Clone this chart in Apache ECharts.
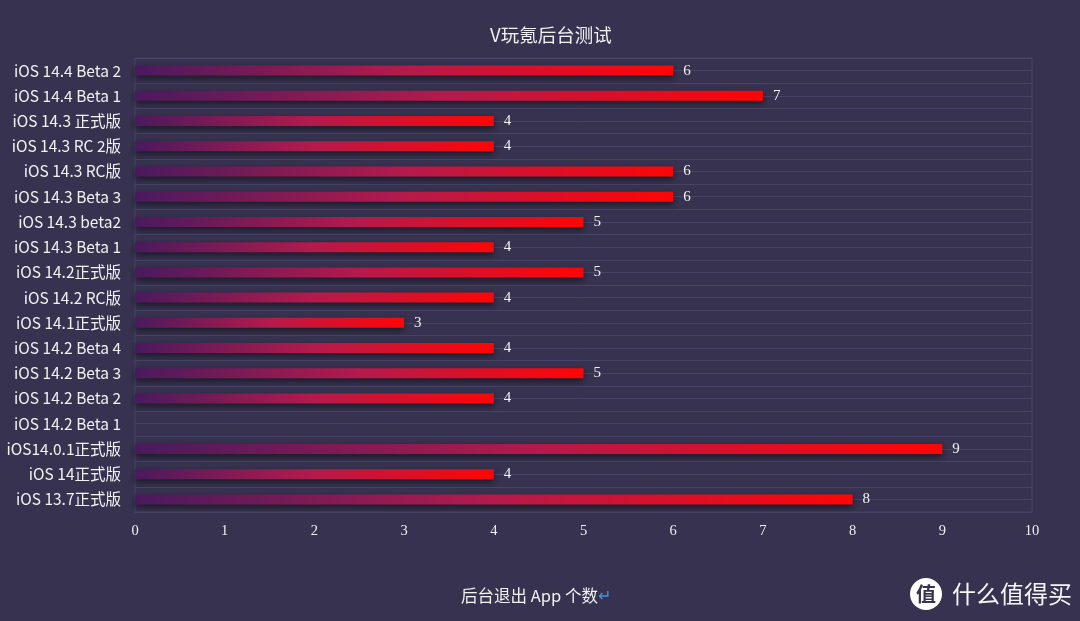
<!DOCTYPE html>
<html>
<head>
<meta charset="utf-8">
<script src="https://cdn.jsdelivr.net/npm/echarts@6/dist/echarts.min.js"></script>
<style>
html,body{margin:0;padding:0;background:#36324f;}
#main{width:1080px;height:621px;}
</style>
</head>
<body>
<div id="main"></div>
<script>
const titleText = 'V玩氪后台测试';
const axisName = '后台退出 App 个数';
const categories = [
  'iOS 14.4 Beta 2','iOS 14.4 Beta 1','iOS 14.3 正式版','iOS 14.3 RC 2版','iOS 14.3 RC版',
  'iOS 14.3 Beta 3','iOS 14.3 beta2','iOS 14.3 Beta 1','iOS 14.2正式版','iOS 14.2 RC版',
  'iOS 14.1正式版','iOS 14.2 Beta 4','iOS 14.2 Beta 3','iOS 14.2 Beta 2','iOS 14.2 Beta 1',
  'iOS14.0.1正式版','iOS 14正式版','iOS 13.7正式版'
];
const values = [6,7,4,4,6,6,5,4,5,4,3,4,5,4,null,9,4,8];
const xTicks = [0,1,2,3,4,5,6,7,8,9,10];

const chart = echarts.init(document.getElementById('main'));
const gridColor = '#464366';
const option = {
  backgroundColor: '#36324f',
  title: {
    text: titleText, left: 485, top: 21,
    textStyle: {color: '#f2f2f2', fontSize: 18.5, fontWeight: 'normal', fontFamily: 'Noto Sans CJK SC'}
  },
  grid: {left: 135, right: 48, top: 58, bottom: 109, show: true, borderColor: gridColor, borderWidth: 1},
  xAxis: {
    type: 'value', min: 0, max: 10, interval: 1,
    name: axisName + '{arrow|↵}', nameLocation: 'middle', nameGap: 75,
    nameTextStyle: {color: '#f2f2f2', fontSize: 16.5, fontFamily: 'Noto Sans CJK SC',
      padding: [0, 95, 0, 0],
      rich: {arrow: {color: '#4a90e2', fontSize: 16}}},
    axisLine: {show: false}, axisTick: {show: false}, splitLine: {show: false},
    axisLabel: {color: '#f0f0f0', fontSize: 14.5, fontFamily: 'Liberation Serif', margin: 12,
      formatter: v => xTicks.includes(v) ? String(v) : ''}
  },
  yAxis: [{
    type: 'category', data: categories, inverse: true,
    axisLine: {show: false}, axisTick: {show: false},
    splitLine: {show: true, lineStyle: {color: gridColor, width: 1}},
    axisLabel: {color: '#f2f2f2', fontSize: 15.5, fontFamily: 'Noto Sans CJK SC', margin: 14}
  }, {
    type: 'value', min: 0, max: 36, interval: 1, position: 'right',
    axisLine: {show: false}, axisTick: {show: false}, axisLabel: {show: false},
    splitLine: {show: true, lineStyle: {color: gridColor, width: 1}}
  }],
  series: [{
    type: 'bar', yAxisIndex: 0, data: values, barWidth: 10,
    itemStyle: {
      color: new echarts.graphic.LinearGradient(0, 0, 1, 0, [
        {offset: 0, color: '#4a1a5e'},
        {offset: 0.5, color: '#b51a4c'},
        {offset: 1, color: '#ff0505'}
      ]),
      shadowColor: 'rgba(0,0,0,0.5)', shadowBlur: 6, shadowOffsetY: 3
    },
    label: {show: true, position: 'right', distance: 10, color: '#f4f4f4',
      fontSize: 15, fontFamily: 'Liberation Serif', fontWeight: 500}
  }],
  graphic: [
    {type: 'circle', shape: {cx: 926, cy: 594, r: 16}, style: {fill: '#ffffff'}},
    {type: 'text', x: 926, y: 594, style: {text: '值', fill: '#36324f', font: 'bold 20px "Noto Sans CJK SC"', align: 'center', verticalAlign: 'middle'}},
    {type: 'text', x: 952, y: 594, style: {text: '什么值得买', fill: '#f5f5f5', font: '24px "Noto Sans CJK SC"', verticalAlign: 'middle'}}
  ]
};
chart.setOption(option);
</script>
</body>
</html>
